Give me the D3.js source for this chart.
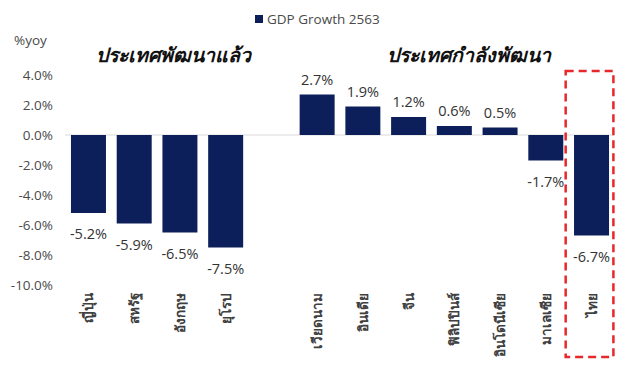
<!DOCTYPE html>
<html>
<head>
<meta charset="utf-8">
<script src="https://cdn.jsdelivr.net/npm/d3@7"></script>
<style>
  body { margin: 0; background: #fff; }
  text { font-family: "Open Sans", "Noto Sans", sans-serif; }
</style>
</head>
<body>
<div id="chart"></div>
<script>
// data
const categories = ["ญี่ปุ่น", "สหรัฐ", "อังกฤษ", "ยุโรป", "", "เวียดนาม", "อินเดีย", "จีน", "ฟิลิปปินส์", "อินโดนีเซีย", "มาเลเซีย", "ไทย"]
const growth = [-5.2, -5.9, -6.5, -7.5, null, 2.7, 1.9, 1.2, 0.6, 0.5, -1.7, -6.7]
const yTicks = [4, 2, 0, -2, -4, -6, -8, -10]
const groupTitles = ["ประเทศพัฒนาแล้ว", "ประเทศกำลังพัฒนา"]
const seriesName = "GDP Growth 2563"
const highlight = "ไทย"

const width = 619
const height = 365
const barColor = "#0c1f5b"
const textColor = "#4a4a4a"

const svg = d3.select("#chart").append("svg")
    .attr("width", width)
    .attr("height", height)

const x = d3.scaleBand()
    .domain(categories)
    .range([65.6, 614.4])
    .paddingInner(0.235)
    .paddingOuter(0.1175)

const y = d3.scaleLinear()
    .domain([-10, 4])
    .range([285, 75])

const locale = d3.formatLocale({decimal: ".", thousands: ",", grouping: [3], currency: ["", ""], minus: "-"})
const pct = v => locale.format(".1f")(v) + "%"

// y axis, labels only
const yAxis = svg.append("g")
    .attr("transform", "translate(55,0)")
    .call(d3.axisLeft(y).tickValues(yTicks).tickSize(0).tickPadding(2).tickFormat(pct))
yAxis.select(".domain").remove()
yAxis.selectAll("text")
    .style("font-size", "13.5px")
    .attr("fill", textColor)

svg.append("text")
    .attr("x", 14)
    .attr("y", 45)
    .text("%yoy")
    .style("font-size", "13.5px")
    .attr("fill", textColor)

// zero line
svg.append("line")
    .attr("x1", 65)
    .attr("x2", 614)
    .attr("y1", y(0))
    .attr("y2", y(0))
    .attr("stroke", "#d9d9d9")
    .attr("stroke-width", 1)

const rows = categories.map((c, i) => ({name: c, value: growth[i]})).filter(d => d.value !== null)

svg.append("g").selectAll("rect")
    .data(rows)
    .join("rect")
    .attr("x", d => x(d.name))
    .attr("width", x.bandwidth())
    .attr("y", d => y(Math.max(0, d.value)))
    .attr("height", d => Math.abs(y(d.value) - y(0)))
    .attr("fill", barColor)

svg.append("g").selectAll("text")
    .data(rows)
    .join("text")
    .attr("x", d => x(d.name) + x.bandwidth() / 2)
    .attr("y", d => d.value >= 0 ? y(d.value) - 10 : y(d.value) + 26)
    .attr("text-anchor", "middle")
    .text(d => pct(d.value))
    .style("font-size", "14.5px")
    .attr("fill", "#333")

// category labels, rotated
svg.append("g").selectAll("text")
    .data(rows)
    .join("text")
    .attr("transform", d => `translate(${x(d.name) + x.bandwidth() / 2 + 5},293) rotate(-90)`)
    .attr("text-anchor", "end")
    .text(d => d.name)
    .style("font-size", "13.5px")
    .style("font-weight", "bold")
    .attr("fill", "#404040")

// group titles
svg.append("text")
    .attr("x", 173)
    .attr("y", 62)
    .attr("text-anchor", "middle")
    .text(groupTitles[0])
    .style("font-size", "19.5px")
    .style("font-weight", "bold")
    .style("font-style", "italic")
    .attr("fill", "#111")

svg.append("text")
    .attr("x", 469)
    .attr("y", 62)
    .attr("text-anchor", "middle")
    .text(groupTitles[1])
    .style("font-size", "19.5px")
    .style("font-weight", "bold")
    .style("font-style", "italic")
    .attr("fill", "#111")

// legend
svg.append("rect")
    .attr("x", 255)
    .attr("y", 15)
    .attr("width", 8)
    .attr("height", 8)
    .attr("fill", barColor)
svg.append("text")
    .attr("x", 267)
    .attr("y", 24)
    .text(seriesName)
    .style("font-size", "13.5px")
    .attr("fill", textColor)

// red dashed box around Thailand
const pad = (x.step() - x.bandwidth()) / 2
svg.append("rect")
    .attr("x", x(highlight) - pad - 3)
    .attr("y", 71)
    .attr("width", x.bandwidth() + 2 * pad + 2)
    .attr("height", 286)
    .attr("fill", "none")
    .attr("stroke", "#e8272a")
    .attr("stroke-width", 2.5)
    .attr("stroke-dasharray", "8,5")
</script>
</body>
</html>
